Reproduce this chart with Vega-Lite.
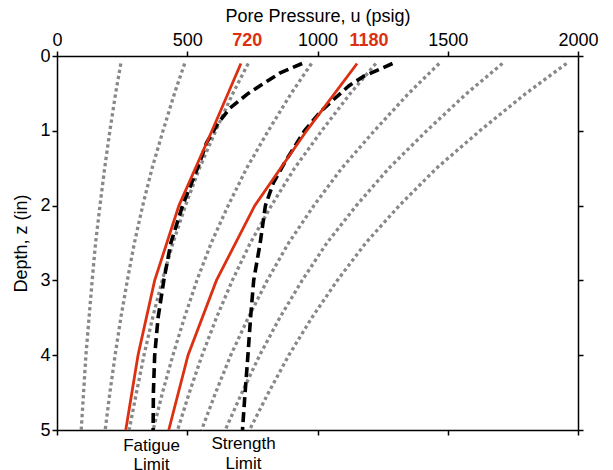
{
  "$schema": "https://vega.github.io/schema/vega-lite/v6.json",
  "width": 521,
  "height": 374,
  "autosize": {"type": "none"},
  "padding": {"left": 57, "top": 56, "right": 35, "bottom": 40},
  "config": {
    "font": "Liberation Sans",
    "view": {"stroke": null},
    "axis": {
      "grid": false,
      "labelFont": "Liberation Sans",
      "titleFont": "Liberation Sans",
      "labelFontSize": 18,
      "titleFontSize": 18,
      "titleFontWeight": "normal",
      "labelColor": "black",
      "titleColor": "black",
      "domainColor": "black",
      "tickColor": "black",
      "domainWidth": 1.5,
      "tickWidth": 1.5,
      "tickSize": 5,
      "labelFlush": false,
      "labelOverlap": false,
      "labelPadding": 2,
      "format": "d"
    }
  },
  "datasets": {
    "curves": [
      {"s": "g1", "kind": "gray", "z": 0.1, "u": 245}, {"s": "g1", "kind": "gray", "z": 0.5, "u": 225}, {"s": "g1", "kind": "gray", "z": 1, "u": 203}, {"s": "g1", "kind": "gray", "z": 1.5, "u": 183}, {"s": "g1", "kind": "gray", "z": 2, "u": 165}, {"s": "g1", "kind": "gray", "z": 2.5, "u": 148}, {"s": "g1", "kind": "gray", "z": 3, "u": 135}, {"s": "g1", "kind": "gray", "z": 3.5, "u": 123}, {"s": "g1", "kind": "gray", "z": 4, "u": 111}, {"s": "g1", "kind": "gray", "z": 4.5, "u": 102}, {"s": "g1", "kind": "gray", "z": 5, "u": 93},
      {"s": "g2", "kind": "gray", "z": 0.1, "u": 490}, {"s": "g2", "kind": "gray", "z": 0.5, "u": 451}, {"s": "g2", "kind": "gray", "z": 1, "u": 407}, {"s": "g2", "kind": "gray", "z": 1.5, "u": 365}, {"s": "g2", "kind": "gray", "z": 2, "u": 329}, {"s": "g2", "kind": "gray", "z": 2.5, "u": 297}, {"s": "g2", "kind": "gray", "z": 3, "u": 270}, {"s": "g2", "kind": "gray", "z": 3.5, "u": 245}, {"s": "g2", "kind": "gray", "z": 4, "u": 223}, {"s": "g2", "kind": "gray", "z": 4.5, "u": 203}, {"s": "g2", "kind": "gray", "z": 5, "u": 185},
      {"s": "g3", "kind": "gray", "z": 0.1, "u": 734}, {"s": "g3", "kind": "gray", "z": 0.5, "u": 675}, {"s": "g3", "kind": "gray", "z": 1, "u": 609}, {"s": "g3", "kind": "gray", "z": 1.5, "u": 547}, {"s": "g3", "kind": "gray", "z": 2, "u": 493}, {"s": "g3", "kind": "gray", "z": 2.5, "u": 445}, {"s": "g3", "kind": "gray", "z": 3, "u": 404}, {"s": "g3", "kind": "gray", "z": 3.5, "u": 367}, {"s": "g3", "kind": "gray", "z": 4, "u": 334}, {"s": "g3", "kind": "gray", "z": 4.5, "u": 305}, {"s": "g3", "kind": "gray", "z": 5, "u": 277},
      {"s": "g4", "kind": "gray", "z": 0.1, "u": 977}, {"s": "g4", "kind": "gray", "z": 0.5, "u": 899}, {"s": "g4", "kind": "gray", "z": 1, "u": 811}, {"s": "g4", "kind": "gray", "z": 1.5, "u": 728}, {"s": "g4", "kind": "gray", "z": 2, "u": 657}, {"s": "g4", "kind": "gray", "z": 2.5, "u": 592}, {"s": "g4", "kind": "gray", "z": 3, "u": 537}, {"s": "g4", "kind": "gray", "z": 3.5, "u": 489}, {"s": "g4", "kind": "gray", "z": 4, "u": 445}, {"s": "g4", "kind": "gray", "z": 4.5, "u": 405}, {"s": "g4", "kind": "gray", "z": 5, "u": 369},
      {"s": "g5", "kind": "gray", "z": 0.1, "u": 1224}, {"s": "g5", "kind": "gray", "z": 0.5, "u": 1126}, {"s": "g5", "kind": "gray", "z": 1, "u": 1016}, {"s": "g5", "kind": "gray", "z": 1.5, "u": 912}, {"s": "g5", "kind": "gray", "z": 2, "u": 823}, {"s": "g5", "kind": "gray", "z": 2.5, "u": 742}, {"s": "g5", "kind": "gray", "z": 3, "u": 673}, {"s": "g5", "kind": "gray", "z": 3.5, "u": 612}, {"s": "g5", "kind": "gray", "z": 4, "u": 557}, {"s": "g5", "kind": "gray", "z": 4.5, "u": 508}, {"s": "g5", "kind": "gray", "z": 5, "u": 463},
      {"s": "g6", "kind": "gray", "z": 0.1, "u": 1467}, {"s": "g6", "kind": "gray", "z": 0.5, "u": 1350}, {"s": "g6", "kind": "gray", "z": 1, "u": 1218}, {"s": "g6", "kind": "gray", "z": 1.5, "u": 1093}, {"s": "g6", "kind": "gray", "z": 2, "u": 986}, {"s": "g6", "kind": "gray", "z": 2.5, "u": 889}, {"s": "g6", "kind": "gray", "z": 3, "u": 807}, {"s": "g6", "kind": "gray", "z": 3.5, "u": 734}, {"s": "g6", "kind": "gray", "z": 4, "u": 667}, {"s": "g6", "kind": "gray", "z": 4.5, "u": 609}, {"s": "g6", "kind": "gray", "z": 5, "u": 555},
      {"s": "g7", "kind": "gray", "z": 0.1, "u": 1710}, {"s": "g7", "kind": "gray", "z": 0.5, "u": 1573}, {"s": "g7", "kind": "gray", "z": 1, "u": 1419}, {"s": "g7", "kind": "gray", "z": 1.5, "u": 1274}, {"s": "g7", "kind": "gray", "z": 2, "u": 1149}, {"s": "g7", "kind": "gray", "z": 2.5, "u": 1036}, {"s": "g7", "kind": "gray", "z": 3, "u": 941}, {"s": "g7", "kind": "gray", "z": 3.5, "u": 855}, {"s": "g7", "kind": "gray", "z": 4, "u": 778}, {"s": "g7", "kind": "gray", "z": 4.5, "u": 710}, {"s": "g7", "kind": "gray", "z": 5, "u": 646},
      {"s": "g8", "kind": "gray", "z": 0.1, "u": 1956}, {"s": "g8", "kind": "gray", "z": 0.5, "u": 1800}, {"s": "g8", "kind": "gray", "z": 1, "u": 1623}, {"s": "g8", "kind": "gray", "z": 1.5, "u": 1457}, {"s": "g8", "kind": "gray", "z": 2, "u": 1314}, {"s": "g8", "kind": "gray", "z": 2.5, "u": 1185}, {"s": "g8", "kind": "gray", "z": 3, "u": 1076}, {"s": "g8", "kind": "gray", "z": 3.5, "u": 978}, {"s": "g8", "kind": "gray", "z": 4, "u": 890}, {"s": "g8", "kind": "gray", "z": 4.5, "u": 812}, {"s": "g8", "kind": "gray", "z": 5, "u": 739},
      {"s": "r1", "kind": "red", "z": 0.1, "u": 706}, {"s": "r1", "kind": "red", "z": 1, "u": 595}, {"s": "r1", "kind": "red", "z": 2, "u": 468}, {"s": "r1", "kind": "red", "z": 3, "u": 375}, {"s": "r1", "kind": "red", "z": 4, "u": 311}, {"s": "r1", "kind": "red", "z": 5, "u": 264},
      {"s": "r2", "kind": "red", "z": 0.1, "u": 1152}, {"s": "r2", "kind": "red", "z": 1, "u": 958}, {"s": "r2", "kind": "red", "z": 2, "u": 759}, {"s": "r2", "kind": "red", "z": 3, "u": 612}, {"s": "r2", "kind": "red", "z": 4, "u": 503}, {"s": "r2", "kind": "red", "z": 5, "u": 429},
      {"s": "b1", "kind": "black", "z": 0.1, "u": 941}, {"s": "b1", "kind": "black", "z": 0.23, "u": 855}, {"s": "b1", "kind": "black", "z": 0.5, "u": 734}, {"s": "b1", "kind": "black", "z": 0.7, "u": 663}, {"s": "b1", "kind": "black", "z": 0.9, "u": 618}, {"s": "b1", "kind": "black", "z": 1.16, "u": 574}, {"s": "b1", "kind": "black", "z": 1.45, "u": 545}, {"s": "b1", "kind": "black", "z": 2, "u": 482}, {"s": "b1", "kind": "black", "z": 2.5, "u": 437}, {"s": "b1", "kind": "black", "z": 3, "u": 410}, {"s": "b1", "kind": "black", "z": 3.5, "u": 388}, {"s": "b1", "kind": "black", "z": 4, "u": 375}, {"s": "b1", "kind": "black", "z": 4.5, "u": 370}, {"s": "b1", "kind": "black", "z": 5, "u": 369},
      {"s": "b2", "kind": "black", "z": 0.1, "u": 1288}, {"s": "b2", "kind": "black", "z": 0.27, "u": 1178}, {"s": "b2", "kind": "black", "z": 0.4, "u": 1120}, {"s": "b2", "kind": "black", "z": 0.6, "u": 1056}, {"s": "b2", "kind": "black", "z": 0.75, "u": 1010}, {"s": "b2", "kind": "black", "z": 1, "u": 950}, {"s": "b2", "kind": "black", "z": 1.4, "u": 878}, {"s": "b2", "kind": "black", "z": 1.7, "u": 830}, {"s": "b2", "kind": "black", "z": 2, "u": 800}, {"s": "b2", "kind": "black", "z": 2.5, "u": 780}, {"s": "b2", "kind": "black", "z": 3, "u": 755}, {"s": "b2", "kind": "black", "z": 3.5, "u": 743}, {"s": "b2", "kind": "black", "z": 4, "u": 733}, {"s": "b2", "kind": "black", "z": 4.5, "u": 722}, {"s": "b2", "kind": "black", "z": 5, "u": 712}
    ],
    "labels": [
      {"label": "720", "kind": "red", "u": 730, "z": -0.2},
      {"label": "1180", "kind": "red", "u": 1198, "z": -0.2},
      {"label": "Fatigue", "kind": "black", "u": 363, "z": 5.21},
      {"label": "Limit", "kind": "black", "u": 363, "z": 5.47},
      {"label": "Strength", "kind": "black", "u": 716, "z": 5.19},
      {"label": "Limit", "kind": "black", "u": 716, "z": 5.45}
    ]
  },
  "layer": [
    {
      "data": {"name": "curves"},
      "transform": [{"filter": "datum.kind === 'gray'"}],
      "mark": {"type": "line", "stroke": "#888888", "strokeWidth": 3.3, "strokeDash": [3.3, 3], "strokeCap": "butt"},
      "encoding": {
        "x": {"field": "u", "type": "quantitative", "scale": {"domain": [0, 2000], "nice": false},
              "axis": {"orient": "top", "values": [0, 500, 1000, 1500, 2000], "title": "Pore Pressure, u (psig)", "titlePadding": 6}},
        "y": {"field": "z", "type": "quantitative", "scale": {"domain": [0, 5], "reverse": true, "nice": false},
              "axis": {"orient": "left", "values": [0, 1, 2, 3, 4, 5], "title": "Depth, z (in)", "titlePadding": 9}},
        "detail": {"field": "s"},
        "order": {"field": "z", "type": "quantitative"}
      }
    },
    {
      "data": {"name": "curves"},
      "transform": [{"filter": "datum.kind === 'black'"}],
      "mark": {"type": "line", "stroke": "black", "strokeWidth": 3.6, "strokeDash": [10, 5], "strokeCap": "butt"},
      "encoding": {
        "x": {"field": "u", "type": "quantitative", "scale": {"domain": [0, 2000], "nice": false},
              "axis": {"orient": "bottom", "values": [0, 500, 1000, 1500, 2000], "labels": false, "title": null}},
        "y": {"field": "z", "type": "quantitative", "scale": {"domain": [0, 5], "reverse": true, "nice": false},
              "axis": {"orient": "right", "values": [0, 1, 2, 3, 4, 5], "labels": false, "title": null}},
        "detail": {"field": "s"},
        "order": {"field": "z", "type": "quantitative"}
      }
    },
    {
      "data": {"name": "curves"},
      "transform": [{"filter": "datum.kind === 'red'"}],
      "mark": {"type": "line", "stroke": "#dc3012", "strokeWidth": 2.8},
      "encoding": {
        "x": {"field": "u", "type": "quantitative", "scale": {"domain": [0, 2000], "nice": false}, "axis": null},
        "y": {"field": "z", "type": "quantitative", "scale": {"domain": [0, 5], "reverse": true, "nice": false}, "axis": null},
        "detail": {"field": "s"},
        "order": {"field": "z", "type": "quantitative"}
      }
    },
    {
      "data": {"name": "labels"},
      "transform": [{"filter": "datum.kind === 'red'"}],
      "mark": {"type": "text", "font": "Liberation Sans", "fontSize": 18, "fontWeight": "bold", "fill": "#dc3012", "align": "center", "baseline": "middle"},
      "encoding": {
        "x": {"field": "u", "type": "quantitative", "scale": {"domain": [0, 2000], "nice": false}, "axis": null},
        "y": {"field": "z", "type": "quantitative", "scale": {"domain": [0, 5], "reverse": true, "nice": false}, "axis": null},
        "text": {"field": "label"}
      }
    },
    {
      "data": {"name": "labels"},
      "transform": [{"filter": "datum.kind === 'black'"}],
      "mark": {"type": "text", "font": "Liberation Sans", "fontSize": 17, "fill": "black", "align": "center", "baseline": "middle"},
      "encoding": {
        "x": {"field": "u", "type": "quantitative", "scale": {"domain": [0, 2000], "nice": false}, "axis": null},
        "y": {"field": "z", "type": "quantitative", "scale": {"domain": [0, 5], "reverse": true, "nice": false}, "axis": null},
        "text": {"field": "label"}
      }
    }
  ],
  "resolve": {"axis": {"x": "independent", "y": "independent"}}
}
